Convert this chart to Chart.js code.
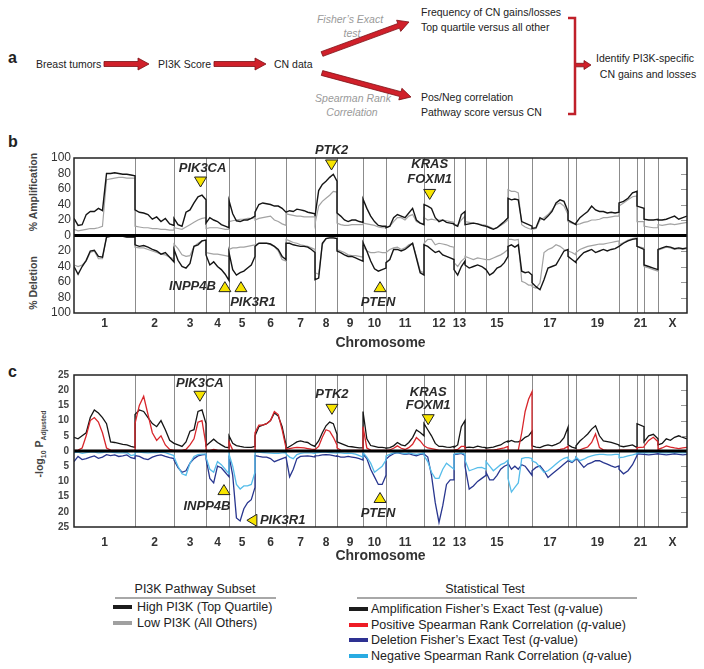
<!DOCTYPE html>
<html>
<head>
<meta charset="utf-8">
<script src="https://cdn.jsdelivr.net/npm/chart.js@4.4.1/dist/chart.umd.min.js"></script>
<style>
html, body { margin: 0; padding: 0; background: #fff; }
body { width: 704px; height: 669px; position: relative; overflow: hidden; font-family: "Liberation Sans", Arial, sans-serif; color: #222; }
.abs { position: absolute; white-space: nowrap; }
.letter { font-weight: bold; font-size: 16px; color: #222; transform: translateY(-50%); }
.ylab { transform: translate(-50%, -50%) rotate(-90deg); font-weight: bold; font-size: 10.5px; color: #444; }
.ylab sub { font-size: 7px; }
canvas { position: absolute; left: 0; }
.lg { font-size: 12.5px; color: #222; transform: translateY(-50%); }
.lghead { font-size: 12.5px; color: #222; transform: translate(-50%, -50%); }
.sw { position: absolute; height: 4px; width: 19px; transform: translateY(-50%); }
.rule { position: absolute; height: 1.5px; background: #a8a8a8; }
</style>
</head>
<body>
<svg id="flow" width="704" height="130" style="position:absolute;left:0;top:0"></svg>

<div class="abs letter" style="left:8px;top:58px">a</div>
<div class="abs letter" style="left:8px;top:142px">b</div>
<div class="abs letter" style="left:8px;top:372px">c</div>

<div class="abs ylab" style="left:33px;top:192px">% Amplification</div>
<div class="abs ylab" style="left:33px;top:283px">% Deletion</div>
<div class="abs ylab" style="left:40px;top:444px">-log<sub>10</sub> P<sub>Adjusted</sub></div>

<canvas id="chartB" width="704" height="216" style="top:136px"></canvas>
<canvas id="chartC" width="704" height="205" style="top:360px"></canvas>

<!-- legends -->
<div class="abs lghead" style="left:195px;top:589px">PI3K Pathway Subset</div>
<div class="rule" style="left:115px;top:597px;width:161px"></div>
<div class="sw" style="left:113px;top:607px;background:#1c1c1c"></div>
<div class="abs lg" style="left:137px;top:607px">High PI3K (Top Quartile)</div>
<div class="sw" style="left:113px;top:623px;background:#a0a0a0"></div>
<div class="abs lg" style="left:137px;top:623px">Low PI3K (All Others)</div>

<div class="abs lghead" style="left:485px;top:589px">Statistical Test</div>
<div class="rule" style="left:357px;top:597px;width:280px"></div>
<div class="sw" style="left:349px;top:609px;background:#1c1c1c"></div>
<div class="abs lg" style="left:371px;top:609px">Amplification Fisher’s Exact Test (<i>q</i>-value)</div>
<div class="sw" style="left:349px;top:625px;background:#ee1c25"></div>
<div class="abs lg" style="left:371px;top:625px">Positive Spearman Rank Correlation (<i>q</i>-value)</div>
<div class="sw" style="left:349px;top:640px;background:#2e3192"></div>
<div class="abs lg" style="left:371px;top:640px">Deletion Fisher’s Exact Test (<i>q</i>-value)</div>
<div class="sw" style="left:349px;top:656px;background:#29abe2"></div>
<div class="abs lg" style="left:371px;top:656px">Negative Spearman Rank Correlation (<i>q</i>-value)</div>

<script>
// chromosome extents (relative number of measured loci) and names
const CHROM_NAMES = ['1','2','3','4','5','6','7','8','9','10','11','12','13','14','15','16','17','18','19','20','21','22','X'];
const CHROM_SIZE = [61,39,32,23,26,31,29,22,26,23,38,30,11,21,22,24,36,8,43,18,7,14,29];
const CHROM_SHOWN = ['1','2','3','4','5','6','7','8','9','10','11','12','13','15','17','19','21','X'];

// panel b: % of tumours with gain / loss, per chromosome
const AMP_HIGH = [
  [22,13,14,27,31,31,35,32,80,80,81,80,79,79,78,77],
  [33,30,29,27,21,24,18,22,15,13],
  [22,14,12,30,33,42,50,52,46],
  [16,23,20,18,14,12,10],
  [45,28,19,18,20,20,22,25],
  [30,40,42,41,40,38,38,35,30],
  [30,32,31,34,33,32,30,29,28],
  [25,58,66,70,75,79,70],
  [29,25,20,18,20,20,18,17],
  [47,35,25,18,13,12,12],
  [10,12,23,27,25,23,29,35,20,16,14],
  [40,38,35,23,18,20,17,16,15],
  [14,12,27,31],
  [14,15,16,15,13,12],
  [12,10,8,10,14,18,23],
  [48,46,47,46,18,16,14,12],
  [9,10,23,20,25,31,42,46,44,31],
  [20,17,14],
  [16,23,27,31,38,33,31,31,29,30,29,30],
  [42,44,48,55,57],
  [38,35],
  [21,20,20,21],
  [20,20,21,23,25,21,23,25]
];
const AMP_LOW = [
  [8,6,7,8,9,9,10,12,72,73,74,75,75,74,74,74],
  [12,11,10,10,9,9,8,8,7,7],
  [10,9,8,11,14,17,20,22,23],
  [9,10,10,10,9,8,8],
  [18,19,20,21,21,22,22,23],
  [20,22,23,24,25,20,18,15,13],
  [28,27,26,25,25,24,24,24,24],
  [15,38,44,48,52,57,56],
  [16,14,13,13,14,14,14,14],
  [16,15,14,13,11,10,10],
  [10,12,18,23,23,20,25,27,18,16,15],
  [23,20,21,20,20,20,19,18,17],
  [14,13,20,25],
  [18,17,16,15,14,13],
  [13,11,9,10,13,16,20],
  [59,57,57,55,14,11,9,8],
  [8,9,20,23,27,33,40,42,38,27],
  [18,16,14],
  [14,15,17,18,20,20,21,23,23,24,25,25],
  [38,42,46,50,51],
  [18,18],
  [12,11,10,10],
  [14,13,14,15,14,15,16,17]
];
const DEL_HIGH = [
  [40,50,40,32,20,19,27,28,2,1,1,1,1,2,2,2],
  [12,14,13,15,18,20,24,22,28,34],
  [18,32,40,42,36,14,12,7,6],
  [25,38,34,40,44,50,58],
  [22,44,51,48,46,42,38,27],
  [14,10,10,10,11,14,18,27,31],
  [10,10,12,13,14,14,15,18,22],
  [57,55,10,4,3,3,4],
  [20,22,25,27,27,29,31,33],
  [9,20,33,43,46,44,42],
  [35,31,18,18,20,18,14,10,29,48,51],
  [12,14,18,22,20,25,27,29,31],
  [44,51,40,33],
  [38,42,40,38,40,44],
  [44,51,48,42,40,35,27],
  [14,12,15,12,46,48,47,51],
  [61,66,70,57,42,40,38,29,20,18],
  [27,31,35],
  [33,27,22,20,18,22,20,18,20,18,17,14],
  [14,10,7,5,4],
  [14,18],
  [38,40,42,44],
  [18,16,14,15,17,16,17,16]
];
const DEL_LOW = [
  [38,40,38,33,22,20,30,30,2,1,1,1,1,2,2,2],
  [15,16,16,18,20,22,24,25,28,30],
  [11,17,25,27,26,14,10,7,6],
  [22,23,24,24,25,26,27],
  [18,16,16,15,15,14,13,12],
  [12,10,10,10,12,14,20,31,33],
  [5,7,9,10,12,13,14,16,18],
  [48,50,12,4,3,3,4],
  [18,20,22,25,26,26,27,28],
  [14,20,22,22,21,22,22],
  [22,18,16,15,18,16,12,10,27,46,48],
  [10,5,5,12,10,11,12,14,15],
  [35,40,33,29],
  [27,29,31,29,30,31],
  [31,31,29,27,25,22,18],
  [5,5,6,5,59,61,64,64],
  [66,68,61,22,18,16,12,14,18,20],
  [20,22,25],
  [22,18,16,14,13,12,11,11,10,9,8,7],
  [12,9,6,4,3],
  [14,16],
  [40,42,44,46],
  [19,17,15,16,18,17,18,17]
];

// panel c: -log10 adjusted p, per chromosome
const Q_AMP = [
  [4.5,4,5,6,11,13.5,12.5,11,9,3,2.8,2.5,2.2,2,1.5,1.2],
  [12,13.5,13,11,9,8,10,7,3.5,2.5],
  [2.5,2,1.5,3,6.5,7,13,13.5,9],
  [1.7,2.8,3.9,2.8,2,1.3,1.1],
  [5,2.5,1.8,1.5,1.3,1.2,1.2,1.5],
  [5,8,8.5,9,10,12.5,11.5,8,2],
  [0.8,1.5,2.2,3,3.3,3,2.8,2,1.5],
  [1.7,3.3,6,8.3,9.5,9,5.5],
  [3,2.5,2,1.5,1.4,1.2,1,1],
  [13,4,1.8,1.5,1.2,1.2,1],
  [0.9,1.1,1.7,2.8,2,1.7,2.8,4.4,6.9,6.1,5],
  [9,7,5,2.5,1.5,1.5,1.3,1.2,1.5],
  [1.2,2,8,10],
  [1.1,1.3,1.1,1.6,1.3,1.1],
  [0.9,1.1,1.3,1.7,2,2.8,3.3],
  [3,3.5,3,3,3.5,4.5,5,6.5],
  [1.7,1.3,1.1,1.7,2,1.7,2.2,2.8,4.4,7.8],
  [2,1.3,0.9],
  [1.7,3.3,4.4,5.6,7.2,8.3,5,3.3,3.1,2.8,2.4,2],
  [1.7,1.4,1.7,2,1.1],
  [9,8],
  [3,5,5.5,4],
  [2,2.5,4,3.5,4.5,5,4.5,4]
];
const Q_POS = [
  [0.2,0.3,1,5,10,11,9.5,6,1,0.3,0.2,0.2,0.2,0.2,0.2,0.2],
  [9,15,18,12,6,3.5,5,2,0.5,0.2],
  [0.2,0.2,0.2,0.5,2,4,9.5,10,2],
  [0.2,0.2,0.5,0.3,0.2,0.1,0.2],
  [3,0.3,0.2,0.2,0.2,0.2,0.2,0.2],
  [6,8.5,8.5,9,10,13,12,7,1],
  [0.5,0.8,1,1.2,1.1,1,0.8,0.6,0.5],
  [0.5,1.5,4.5,7,6.5,4.5,2],
  [1,0.3,0.2,0.2,0.2,0.2,0.2,0.2],
  [8,1,0.3,0.2,0.2,0.2,0.2],
  [0.2,0.4,0.9,1.7,0.9,0.5,1.1,2.2,4.4,3.3,1.7],
  [1.7,1,0.8,0.5,0.2,0.2,0.2,0.2,0.2],
  [0.3,0.5,1.5,1.5],
  [0.2,0.2,0.2,0.3,0.2,0.2],
  [0.3,0.3,0.3,0.5,0.8,1,1.5],
  [0.2,0.2,0.2,0.3,6,13,17,19.5],
  [0.3,0.3,0.3,0.3,0.3,0.3,0.3,0.5,0.8,1.5],
  [0.3,0.2,0.2],
  [0.2,0.4,0.9,1.3,2.8,5.6,1.1,0.4,0.2,0.2,0.2,0.2],
  [0.3,0.3,0.3,0.3,0.3],
  [1.1,1.3],
  [1.5,3.5,4.5,3],
  [0.5,1,1.7,1.3,1,0.8,1,1.2]
];
const Q_DEL = [
  [3.5,1.8,2.8,2.5,2,1.6,2.4,2,1.2,1.5,1.3,1.8,1.6,1.3,2.2,2.5],
  [1.5,1.8,2.5,2.8,2,1.5,1.3,1.8,2.2,2.5],
  [3,5.5,7,6.5,4,2.5,1.6,1.3,1.1],
  [2.5,9,10.5,5,5.5,7,8.5],
  [1.5,8,22,23,19,17,16,12],
  [1.5,1.8,2,2,2.5,3.5,3,2.5,2],
  [2,8.5,6,2.5,1.8,1.7,1.6,1.8,2],
  [1.6,1.5,1.3,1.2,1.3,1.5,1.8],
  [1.6,2,2,1.8,2,2.2,2.5,3],
  [1,2.5,6,8.5,11,11,8],
  [2.7,1.6,0.9,0.5,0.9,1.1,0.9,1.3,1.6,1.1,0.9],
  [1,2,8,17,23.5,18,11,9.5,9.5],
  [1.2,1,0.8,1.5],
  [5,12.5,11.5,10,9,8],
  [7,9.5,9.5,8,6,5,4.5],
  [4,6,5,6,4.5,5,6.5,8],
  [6.5,5.4,4.9,6.5,8.7,7.6,6.5,5.4,4.3,3.2],
  [3.2,3.8,2.7],
  [2.2,3.8,5.4,4.3,3.8,3.2,3.2,3.8,4.3,4.9,5.4,4.9],
  [6,7.5,6.5,4.5,1.5],
  [0.9,1.1],
  [1.1,1.3,1.1,0.9],
  [0.9,1.1,1.3,1.1,0.9,1.1,1.3,1.1]
];
const Q_NEG = [
  [0.5,0.4,0.8,0.5,0.4,0.4,0.6,0.5,0.3,0.4,0.5,0.6,0.6,0.5,1.5,1.2],
  [0.3,0.4,0.5,0.6,0.5,0.5,0.4,0.5,1,1.5],
  [2,5,7.5,8,4,1.8,1.2,1,1],
  [2,6,7,3.5,4.5,6,7.5],
  [1,5,11,12.5,11.5,11.5,11,7],
  [0.3,0.4,0.5,0.6,0.7,0.8,0.8,0.6,0.5],
  [1,2,2.5,1.2,0.8,0.6,0.6,0.6,0.8],
  [0.6,0.5,0.4,0.4,0.5,0.6,0.7],
  [0.5,0.6,0.8,0.7,0.8,1,1.5,2],
  [0.5,2,4,7,6,5,3],
  [1.6,1.1,0.6,0.5,0.6,0.9,0.6,0.9,1.1,0.9,0.6],
  [1.5,3.5,7,9,9,6,4,5,6],
  [1,0.8,0.6,1],
  [3,6.5,6,5.5,5.4,6],
  [3.5,5,6.5,5.5,4.5,4,3],
  [9,13.5,12,10.5,2.5,2.2,2.2,2.5],
  [3.2,3.8,5.4,7,6.5,5.4,4.3,3.2,2.4,2],
  [2.7,3.5,2.4],
  [2,3.2,2.7,2,1.6,1.3,1.1,1.1,1.3,1.3,1.1,1.1],
  [2.2,2,1.6,1.3,0.9],
  [0.5,0.6],
  [0.5,0.6,0.5,0.4],
  [0.5,0.6,0.6,0.5,0.5,0.5,0.6,0.5]
];

const CHROM_START = [];
CHROM_SIZE.reduce((acc, w) => { CHROM_START.push(acc); return acc + w; }, 0);
const GENOME = CHROM_SIZE.reduce((a, b) => a + b, 0);

function toPoints(series, sign) {
  const pts = [];
  series.forEach((vals, c) => {
    const s = CHROM_START[c], w = CHROM_SIZE[c], n = vals.length;
    vals.forEach((v, i) => pts.push({ x: s + (n > 1 ? i * w / (n - 1) : w / 2), y: sign * v }));
  });
  return pts;
}

const tickPos = CHROM_SHOWN.map(name => {
  const c = CHROM_NAMES.indexOf(name);
  return CHROM_START[c] + CHROM_SIZE[c] / 2;
});

// gene call-outs: chromosome + relative position, value where the marker sits
const MARKS_B = [
  { names: ['PIK3CA'], chrom: '3', frac: 0.83, y: 69, dir: 'down', dx: 2, dy: -14 },
  { names: ['PTK2'], chrom: '8', frac: 0.75, y: 91, dir: 'down', dx: 0, dy: -15 },
  { names: ['KRAS', 'FOXM1'], chrom: '12', frac: 0.19, y: 53, dir: 'down', dx: 0, dy: -15 },
  { names: ['INPP4B'], chrom: '4', frac: 0.82, y: -66, dir: 'up', dx: -9, dy: 0, align: 'right' },
  { names: ['PIK3R1'], chrom: '5', frac: 0.46, y: -66, dir: 'up', dx: 12, dy: 16 },
  { names: ['PTEN'], chrom: '10', frac: 0.74, y: -66, dir: 'up', dx: -2, dy: 16 }
];
const MARKS_C = [
  { names: ['PIK3CA'], chrom: '3', frac: 0.81, y: 18, dir: 'down', dx: 0, dy: -12.5 },
  { names: ['PTK2'], chrom: '8', frac: 0.77, y: 13.7, dir: 'down', dx: 0, dy: -15 },
  { names: ['KRAS', 'FOXM1'], chrom: '12', frac: 0.14, y: 10.3, dir: 'down', dx: 0, dy: -14 },
  { names: ['INPP4B'], chrom: '4', frac: 0.78, y: -12.7, dir: 'up', dx: -17, dy: 17 },
  { names: ['PIK3R1'], chrom: '5', frac: 0.88, y: -22.8, dir: 'left', dx: 8, dy: 0, align: 'left' },
  { names: ['PTEN'], chrom: '10', frac: 0.74, y: -15.3, dir: 'up', dx: -2, dy: 16 }
];

function triangle(ctx, cx, cy, dir, w, h) {
  ctx.beginPath();
  if (dir === 'down') {
    ctx.moveTo(cx - w / 2, cy - h / 2); ctx.lineTo(cx + w / 2, cy - h / 2); ctx.lineTo(cx, cy + h / 2);
  } else if (dir === 'up') {
    ctx.moveTo(cx - w / 2, cy + h / 2); ctx.lineTo(cx + w / 2, cy + h / 2); ctx.lineTo(cx, cy - h / 2);
  } else {
    ctx.moveTo(cx + h / 2, cy - w / 2); ctx.lineTo(cx + h / 2, cy + w / 2); ctx.lineTo(cx - h / 2, cy);
  }
  ctx.closePath();
  ctx.fillStyle = '#f7e400';
  ctx.fill();
  ctx.strokeStyle = '#222';
  ctx.lineWidth = 1;
  ctx.stroke();
}

function makeDecor(marks, lineGap) {
  return {
    id: 'decor',
    beforeDatasetsDraw(chart) {
      const { ctx, chartArea: a, scales: { x } } = chart;
      ctx.save();
      ctx.strokeStyle = '#8c8c8c';
      ctx.lineWidth = 1;
      CHROM_START.slice(1).forEach(s => {
        const px = Math.round(x.getPixelForValue(s)) + 0.5;
        ctx.beginPath(); ctx.moveTo(px, a.top); ctx.lineTo(px, a.bottom); ctx.stroke();
      });
      ctx.restore();
    },
    afterDatasetsDraw(chart) {
      const { ctx, chartArea: a, scales: { x, y } } = chart;
      ctx.save();
      ctx.strokeStyle = '#999';
      ctx.lineWidth = 1;
      y.ticks.forEach(t => {
        if (t.value === 0 || t.value === y.max || t.value === y.min) return;
        const py = Math.round(y.getPixelForValue(t.value)) + 0.5;
        ctx.beginPath(); ctx.moveTo(a.right - 6, py); ctx.lineTo(a.right, py); ctx.stroke();
      });
      const zy = y.getPixelForValue(0);
      ctx.strokeStyle = '#000';
      ctx.lineWidth = 3;
      ctx.beginPath(); ctx.moveTo(a.left, zy); ctx.lineTo(a.right, zy); ctx.stroke();
      ctx.strokeStyle = '#222';
      ctx.lineWidth = 1.5;
      ctx.strokeRect(a.left, a.top, a.right - a.left, a.bottom - a.top);

      ctx.font = 'italic bold 13px "Liberation Sans", Arial, sans-serif';
      ctx.textBaseline = 'middle';
      marks.forEach(m => {
        const c = CHROM_NAMES.indexOf(m.chrom);
        const px = x.getPixelForValue(CHROM_START[c] + m.frac * CHROM_SIZE[c]);
        const py = y.getPixelForValue(m.y);
        triangle(ctx, px, py, m.dir, 12, 10);
        ctx.fillStyle = '#2a2a2a';
        ctx.textAlign = m.align || 'center';
        const n = m.names.length;
        m.names.forEach((t, i) => {
          ctx.fillText(t, px + m.dx, py + m.dy - (n - 1 - i) * lineGap);
        });
      });
      ctx.restore();
    }
  };
}

Chart.defaults.font.family = '"Liberation Sans", Arial, sans-serif';

function xAxis(height, pad) {
  return {
    type: 'linear', min: 0, max: GENOME,
    grid: { display: false, drawTicks: false },
    border: { display: false },
    afterBuildTicks: s => { s.ticks = tickPos.map(v => ({ value: v })); },
    afterFit: s => { s.height = height; },
    ticks: {
      autoSkip: false, maxRotation: 0, padding: pad,
      font: { size: 12, weight: 'bold' }, color: '#333',
      callback: (v, i) => CHROM_SHOWN[i]
    },
    title: { display: true, text: 'Chromosome', font: { size: 14, weight: 'bold' }, color: '#333', padding: 0 }
  };
}

const line = (data, color, width) => ({ data, borderColor: color, borderWidth: width, pointRadius: 0, tension: 0, fill: false });

new Chart(document.getElementById('chartB'), {
  type: 'line',
  data: {
    datasets: [
      line(toPoints(AMP_HIGH, 1), '#151515', 1.4),
      line(toPoints(DEL_HIGH, -1), '#151515', 1.4),
      line(toPoints(AMP_LOW, 1), '#a3a3a3', 1.2),
      line(toPoints(DEL_LOW, -1), '#a3a3a3', 1.2)
    ]
  },
  options: {
    responsive: false, animation: false, devicePixelRatio: 1,
    layout: { padding: { top: 22, right: 17, left: 0, bottom: 0 } },
    plugins: { legend: { display: false }, tooltip: { enabled: false } },
    scales: {
      x: xAxis(39, 3),
      y: {
        min: -100, max: 100,
        grid: { display: false, drawTicks: false },
        border: { display: false },
        afterFit: s => { s.width = 74; },
        ticks: { stepSize: 20, autoSkip: false, padding: 3, font: { size: 12 }, color: '#333', callback: v => Math.abs(v) }
      }
    }
  },
  plugins: [makeDecor(MARKS_B, 15)]
});

new Chart(document.getElementById('chartC'), {
  type: 'line',
  data: {
    datasets: [
      line(toPoints(Q_POS, 1), '#d8262b', 1.3),
      line(toPoints(Q_AMP, 1), '#151515', 1.3),
      line(toPoints(Q_NEG, -1), '#56bdea', 1.3),
      line(toPoints(Q_DEL, -1), '#28368f', 1.3)
    ]
  },
  options: {
    responsive: false, animation: false, devicePixelRatio: 1,
    layout: { padding: { top: 15, right: 17, left: 0, bottom: 0 } },
    plugins: { legend: { display: false }, tooltip: { enabled: false } },
    scales: {
      x: xAxis(38, 8),
      y: {
        min: -25, max: 25,
        grid: { display: false, drawTicks: false },
        border: { display: false },
        afterFit: s => { s.width = 74; },
        ticks: { stepSize: 5, autoSkip: false, padding: 5, font: { size: 10, weight: 'bold' }, color: '#444', callback: v => Math.abs(v) }
      }
    }
  },
  plugins: [makeDecor(MARKS_C, 13)]
});

// panel a: workflow diagram
(function drawFlow() {
  const svg = document.getElementById('flow');
  const NS = 'http://www.w3.org/2000/svg';
  function text(x, y, str, opts = {}) {
    const t = document.createElementNS(NS, 'text');
    t.setAttribute('x', x); t.setAttribute('y', y);
    t.setAttribute('dominant-baseline', 'central');
    t.setAttribute('font-size', opts.size || 10.5);
    t.setAttribute('font-family', '"Liberation Sans", Arial, sans-serif');
    t.setAttribute('fill', opts.fill || '#222');
    if (opts.italic) t.setAttribute('font-style', 'italic');
    if (opts.anchor) t.setAttribute('text-anchor', opts.anchor);
    t.textContent = str;
    svg.appendChild(t);
  }
  function arrow(x1, y1, x2, y2, shaft, headW, headL) {
    const dx = x2 - x1, dy = y2 - y1, L = Math.hypot(dx, dy);
    const ux = dx / L, uy = dy / L, nx = -uy, ny = ux;
    const bx = x2 - ux * headL, by = y2 - uy * headL;
    const p = [
      [x1 + nx * shaft / 2, y1 + ny * shaft / 2], [bx + nx * shaft / 2, by + ny * shaft / 2],
      [bx + nx * headW / 2, by + ny * headW / 2], [x2, y2],
      [bx - nx * headW / 2, by - ny * headW / 2], [bx - nx * shaft / 2, by - ny * shaft / 2],
      [x1 - nx * shaft / 2, y1 - ny * shaft / 2]
    ];
    const poly = document.createElementNS(NS, 'polygon');
    poly.setAttribute('points', p.map(q => q[0].toFixed(1) + ',' + q[1].toFixed(1)).join(' '));
    poly.setAttribute('fill', '#d0202a');
    poly.setAttribute('stroke', '#7c1015');
    poly.setAttribute('stroke-width', '0.8');
    svg.appendChild(poly);
  }
  text(36, 64, 'Breast tumors');
  text(158, 64, 'PI3K Score');
  text(274, 64, 'CN data');
  text(350, 19, 'Fisher’s Exact', { italic: true, fill: '#9a9a9a', anchor: 'middle' });
  text(352, 33, 'test', { italic: true, fill: '#9a9a9a', anchor: 'middle' });
  text(353, 98, 'Spearman Rank', { italic: true, fill: '#9a9a9a', anchor: 'middle' });
  text(352, 112, 'Correlation', { italic: true, fill: '#9a9a9a', anchor: 'middle' });
  text(421, 12, 'Frequency of CN gains/losses');
  text(421, 27, 'Top quartile versus all other');
  text(421, 97, 'Pos/Neg correlation');
  text(421, 112, 'Pathway score versus CN');
  text(645, 58, 'Identify PI3K-specific', { anchor: 'middle' });
  text(648, 74, 'CN gains and losses', { anchor: 'middle' });

  arrow(104, 64, 149, 64, 5, 12, 11);
  arrow(214, 64, 266, 64, 5, 12, 11);
  arrow(322, 54, 409, 22, 5, 12, 11);
  arrow(322, 73, 411, 97, 5, 12, 11);
  arrow(575, 65, 591, 65, 3.5, 9, 7);

  const br = document.createElementNS(NS, 'path');
  br.setAttribute('d', 'M568,18 L575,18 L575,114 L568,114');
  br.setAttribute('fill', 'none');
  br.setAttribute('stroke', '#c0202a');
  br.setAttribute('stroke-width', '2.5');
  svg.appendChild(br);
})();
</script>
</body>
</html>
